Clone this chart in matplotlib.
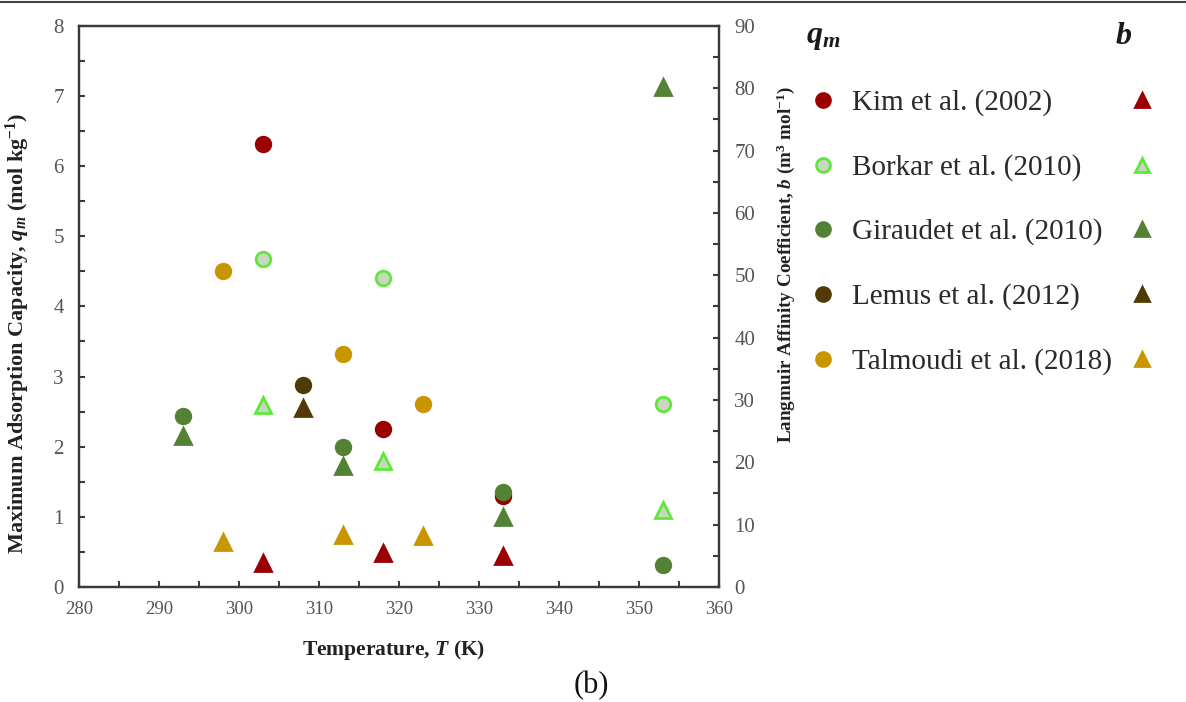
import matplotlib
matplotlib.use('Agg')
import matplotlib.pyplot as plt
from matplotlib.lines import Line2D
from matplotlib.ticker import MultipleLocator

plt.rcParams['font.family'] = 'Liberation Serif'
plt.rcParams['mathtext.fontset'] = 'custom'
plt.rcParams['mathtext.rm'] = 'Liberation Serif:bold'
plt.rcParams['mathtext.it'] = 'Liberation Serif:bold:italic'
plt.rcParams['mathtext.bf'] = 'Liberation Serif:bold'

# studies, temperatures (K), q_m (mol/kg) and b (m3/mol)
studies = ['Kim et al. (2002)', 'Borkar et al. (2010)', 'Giraudet et al. (2010)',
           'Lemus et al. (2012)', 'Talmoudi et al. (2018)']
kim_T = [303, 318, 333]
kim_qm = [6.32, 2.25, 1.30]
kim_b = [3.9, 5.5, 5.0]
borkar_T = [303, 318, 353]
borkar_qm = [4.68, 4.40, 2.61]
borkar_b = [29.2, 20.2, 12.4]
giraudet_T = [293, 313, 333, 353]
giraudet_qm = [2.44, 1.99, 1.36, 0.31]
giraudet_b = [24.2, 19.4, 11.2, 80.2]
lemus_T = [308]
lemus_qm = [2.88]
lemus_b = [28.7]
talmoudi_T = [298, 313, 323]
talmoudi_qm = [4.51, 3.32, 2.61]
talmoudi_b = [7.2, 8.3, 8.2]

temps = [kim_T, borkar_T, giraudet_T, lemus_T, talmoudi_T]
qm_vals = [kim_qm, borkar_qm, giraudet_qm, lemus_qm, talmoudi_qm]
b_vals = [kim_b, borkar_b, giraudet_b, lemus_b, talmoudi_b]

# marker face / edge colours per study
faces = ['#9a0000', '#c9d6c2', '#548235', '#503a05', '#c99600']
edges = ['#9a0000', '#5fe83a', '#548235', '#503a05', '#c99600']
ms = 10.5
axis_grey = '#3a3a3a'
tick_grey = '#555555'

fig = plt.figure(figsize=(11.86, 7.02), dpi=100)
ax = fig.add_axes([0.0666, 0.164, 0.5397, 0.799])
ax2 = ax.twinx()

for T, q, bb, fc, ec in zip(temps, qm_vals, b_vals, faces, edges):
    ax.plot(T, q, 'o', ms=ms, mfc=fc, mec=ec, mew=2, ls='none', zorder=3)
    ax2.plot(T, bb, '^', ms=ms + 0.5, mfc=fc, mec=ec, mew=2, ls='none', zorder=3)

ax.set_xlim(280, 360)
ax.set_ylim(0, 8)
ax2.set_ylim(0, 90)
ax.xaxis.set_major_locator(MultipleLocator(10))
ax.xaxis.set_minor_locator(MultipleLocator(5))
ax.yaxis.set_major_locator(MultipleLocator(1))
ax.yaxis.set_minor_locator(MultipleLocator(0.5))
ax2.yaxis.set_major_locator(MultipleLocator(10))
ax2.yaxis.set_minor_locator(MultipleLocator(5))

for a in (ax, ax2):
    for s in a.spines.values():
        s.set_color(axis_grey)
        s.set_linewidth(1.6)
    a.tick_params(which='both', direction='in', length=4, width=1.5,
                  color=axis_grey, labelcolor=tick_grey, labelsize=15, pad=11)
ax.tick_params(axis='x', which='both', labelsize=13.5, pad=10)

ax.set_xlabel('Temperature, $T$ (K)', fontsize=15.5, fontweight='bold',
              color='#222222')
ax.xaxis.set_label_coords(0.492, -0.092)
ax.set_ylabel('Maximum Adsorption Capacity, $q_m$ (mol kg$^{-1}$)', fontsize=16,
              fontweight='bold', color='#222222')
ax.yaxis.set_label_coords(-0.073, 0.452)
ax2.set_ylabel('Langmuir Affinity Coefficient, $b$ (m$^3$ mol$^{-1}$)', fontsize=13.8,
               fontweight='bold', color='#222222')
ax2.yaxis.set_label_coords(1.087, 0.574)

# legend panel: circles for q_m, triangles for b
lg = fig.add_axes([0.0, 0.0, 1.0, 1.0], facecolor='none')
lg.set_xlim(0, 1186)
lg.set_ylim(702, 0)
lg.axis('off')
lg.text(806, 37, '$q_m$', fontsize=23, va='center', ha='left', color='#1a1a1a')
lg.text(1124, 37, '$b$', fontsize=23, va='center', ha='center', color='#1a1a1a')
row_y = [100, 165, 229, 294, 359]
for y, name, fc, ec in zip(row_y, studies, faces, edges):
    lg.plot(823, y, 'o', ms=ms - 0.5, mfc=fc, mec=ec, mew=2)
    lg.text(852, y + 3, name, fontsize=21, va='center', ha='left', color='#2a2a2a')
    lg.plot(1142, y, '^', ms=ms, mfc=fc, mec=ec, mew=2)

fig.text(0.499, 2 / 702, '(b)', fontsize=22, ha='center', va='bottom',
         color='#111111')
fig.add_artist(Line2D([0, 1], [0.997, 0.997], color='#444444', lw=1.5))

fig.savefig('out.png', dpi=100)
